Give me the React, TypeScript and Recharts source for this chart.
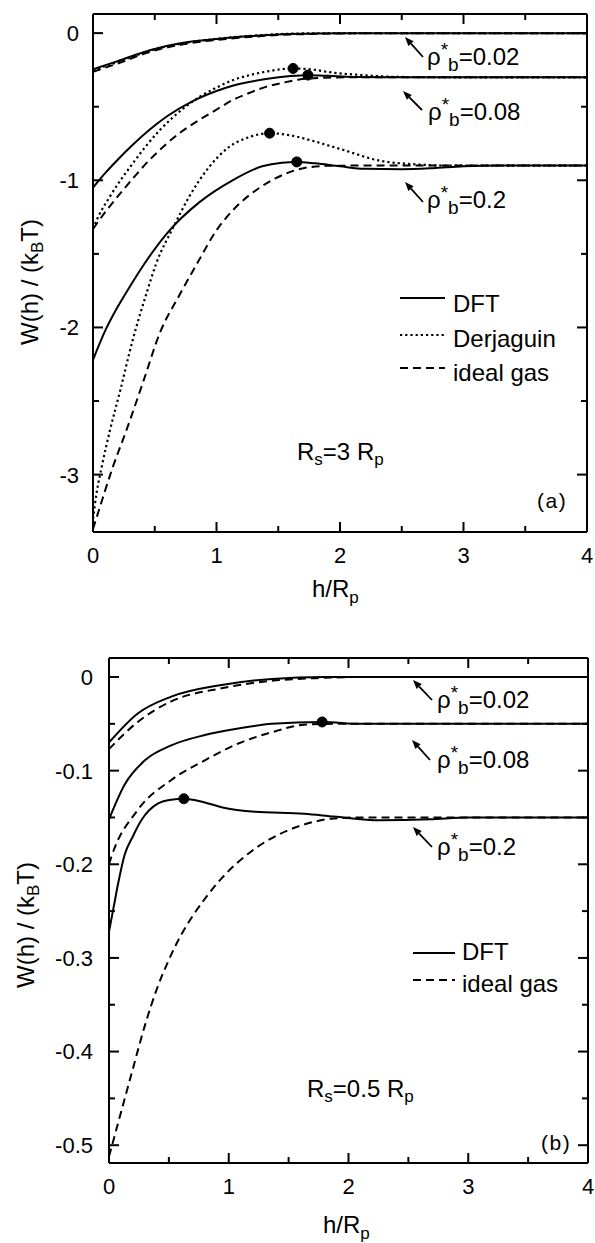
import React from "react";
import { LineChart, Line, XAxis, YAxis } from "recharts";

const FONT = "'Liberation Sans', Arial, Helvetica, sans-serif";

// ---------- Panel (a): Rs = 3 Rp ----------
const dft002a = [[0, -0.245], [0.2, -0.19], [0.46, -0.116], [0.73, -0.066], [1.0, -0.04], [1.27, -0.02], [1.53, -0.007], [1.8, -0.002], [2.2, 0], [4, 0]];
const derj002a = [[0, -0.25], [0.2, -0.196], [0.46, -0.12], [0.73, -0.069], [1.0, -0.039], [1.27, -0.019], [1.53, -0.006], [1.8, -0.001], [2.2, 0], [4, 0]];
const ideal002a = [[0, -0.262], [0.2, -0.206], [0.46, -0.128], [0.73, -0.076], [1.0, -0.046], [1.27, -0.026], [1.53, -0.012], [1.8, -0.005], [2.2, -0.001], [2.6, 0], [4, 0]];

const dft008a = [[0, -1.05], [0.1, -0.95], [0.2, -0.86], [0.32, -0.76], [0.46, -0.655], [0.6, -0.565], [0.8, -0.465], [1.0, -0.393], [1.13, -0.357], [1.4, -0.312], [1.6, -0.292], [1.74, -0.286], [1.9, -0.29], [2.1, -0.298], [2.5, -0.3], [4, -0.3]];
const derj008a = [[0, -1.33], [0.03, -1.27], [0.137, -1.11], [0.3, -0.91], [0.54, -0.66], [0.75, -0.5], [0.86, -0.435], [1.0, -0.37], [1.13, -0.32], [1.27, -0.285], [1.4, -0.262], [1.62, -0.24], [1.8, -0.25], [1.91, -0.265], [2.18, -0.285], [2.45, -0.297], [2.8, -0.3], [4, -0.3]];
const ideal008a = [[0, -1.33], [0.1, -1.215], [0.24, -1.07], [0.46, -0.86], [0.7, -0.68], [0.86, -0.59], [1.0, -0.52], [1.13, -0.455], [1.27, -0.405], [1.4, -0.365], [1.55, -0.335], [1.67, -0.315], [1.85, -0.304], [2.1, -0.3], [4, -0.3]];

const dft02a = [[0, -2.22], [0.1, -2.02], [0.2, -1.86], [0.3, -1.72], [0.43, -1.55], [0.62, -1.34], [0.86, -1.15], [1.13, -1.0], [1.37, -0.905], [1.53, -0.88], [1.65, -0.875], [1.8, -0.885], [2.0, -0.905], [2.2, -0.922], [2.5, -0.925], [2.75, -0.918], [3.0, -0.905], [3.3, -0.9], [4, -0.9]];
const derj02a = [[0, -3.3], [0.03, -3.12], [0.07, -2.95], [0.137, -2.7], [0.22, -2.43], [0.32, -2.09], [0.44, -1.75], [0.51, -1.57], [0.65, -1.32], [0.78, -1.11], [0.94, -0.91], [1.1, -0.775], [1.27, -0.705], [1.43, -0.68], [1.6, -0.695], [1.77, -0.73], [2.05, -0.8], [2.31, -0.865], [2.58, -0.89], [2.9, -0.9], [4, -0.9]];
const ideal02a = [[0, -3.37], [0.056, -3.22], [0.16, -2.95], [0.27, -2.7], [0.41, -2.36], [0.54, -2.04], [0.7, -1.78], [0.84, -1.57], [1.0, -1.34], [1.16, -1.18], [1.35, -1.05], [1.56, -0.955], [1.72, -0.915], [1.9, -0.902], [2.2, -0.9], [4, -0.9]];

const dotsA = [[1.62, -0.24], [1.74, -0.285], [1.43, -0.68], [1.65, -0.875]];

// ---------- Panel (b): Rs = 0.5 Rp ----------
const dft002b = [[0, -0.07], [0.24, -0.039], [0.52, -0.021], [0.94, -0.0085], [1.36, -0.002], [1.8, 0], [4, 0]];
const ideal002b = [[0, -0.077], [0.24, -0.048], [0.52, -0.026], [0.94, -0.012], [1.36, -0.004], [1.77, -0.001], [2.1, 0], [4, 0]];

const dft008b = [[0, -0.152], [0.13, -0.115], [0.3, -0.089], [0.52, -0.073], [0.8, -0.062], [1.08, -0.055], [1.36, -0.05], [1.78, -0.048], [2.1, -0.05], [4, -0.05]];
const ideal008b = [[0, -0.2], [0.02, -0.192], [0.24, -0.142], [0.52, -0.11], [0.8, -0.089], [1.08, -0.071], [1.36, -0.059], [1.63, -0.051], [1.9, -0.05], [4, -0.05]];

const dft02b = [[0, -0.272], [0.04, -0.245], [0.077, -0.22], [0.13, -0.19], [0.2, -0.17], [0.27, -0.153], [0.41, -0.135], [0.52, -0.131], [0.625, -0.13], [0.8, -0.134], [0.94, -0.139], [1.22, -0.144], [1.63, -0.146], [1.88, -0.149], [2.26, -0.153], [2.68, -0.152], [3.0, -0.15], [4, -0.15]];
const ideal02b = [[0, -0.512], [0.1, -0.465], [0.2, -0.418], [0.3, -0.372], [0.4, -0.333], [0.5, -0.302], [0.6, -0.276], [0.7, -0.255], [0.8, -0.237], [0.94, -0.215], [1.19, -0.186], [1.49, -0.164], [1.7, -0.155], [1.88, -0.151], [2.1, -0.15], [4, -0.15]];

const dotsB = [[1.78, -0.048], [0.625, -0.13]];

// ---------- Ticks ----------
const xTicks = [0, 0.5, 1, 1.5, 2, 2.5, 3, 3.5, 4];
const xMajor = [0, 1, 2, 3, 4];
const xLabels = ["0", "1", "2", "3", "4"];

const yTicksA = [-3, -2.5, -2, -1.5, -1, -0.5, 0];
const yMajorA = [-3, -2, -1, 0];
const yLabelsA = ["-3", "-2", "-1", "0"];

const yTicksB = [-0.5, -0.45, -0.4, -0.35, -0.3, -0.25, -0.2, -0.15, -0.1, -0.05, 0];
const yMajorB = [-0.5, -0.4, -0.3, -0.2, -0.1, 0];
const yLabelsB = ["-0.5", "-0.4", "-0.3", "-0.2", "-0.1", "0"];

const toPts = (arr: number[][]) => arr.map(([h, W]) => ({ h, W }));

const DASH = { solid: undefined, dotted: "2.2 3", dashed: "8 5" } as const;
const WIDTH = { solid: 2, dotted: 2.2, dashed: 2 } as const;

const findMajor = (majors: number[], v: number) => majors.findIndex((m) => Math.abs(m - v) < 1e-6);

function makeTick(side: "left" | "right" | "top" | "bottom", majors: number[], labels: string[], gap: number) {
  return (props: any) => {
    const { x, y, payload } = props;
    const idx = findMajor(majors, payload.value);
    const len = idx >= 0 ? 10 : 6;
    let line;
    if (side === "left") line = <line x1={x} y1={y} x2={x + len} y2={y} stroke="#000" strokeWidth={2} />;
    else if (side === "right") line = <line x1={x - len} y1={y} x2={x} y2={y} stroke="#000" strokeWidth={2} />;
    else if (side === "top") line = <line x1={x} y1={y} x2={x} y2={y + len} stroke="#000" strokeWidth={2} />;
    else line = <line x1={x} y1={y} x2={x} y2={y - len} stroke="#000" strokeWidth={2} />;
    let label = null;
    if (idx >= 0 && side === "left")
      label = (
        <text x={x - gap} y={y + 7.9} textAnchor="end" fontFamily={FONT} fontSize={22} fill="#000">
          {labels[idx]}
        </text>
      );
    if (idx >= 0 && side === "bottom")
      label = (
        <text x={x} y={y + gap} textAnchor="middle" fontFamily={FONT} fontSize={22} fill="#000">
          {labels[idx]}
        </text>
      );
    return <g>{line}{label}</g>;
  };
}

type Series = { data: number[][]; style: keyof typeof DASH };

function Panel(props: {
  height: number;
  margin: { top: number; right: number; bottom: number; left: number };
  yAxisWidth: number;
  xAxisHeight: number;
  yDomain: [number, number];
  yTicks: number[];
  yMajor: number[];
  yLabels: string[];
  yGap: number;
  series: Series[];
  dots: number[][];
}) {
  const axisLine = { stroke: "#000", strokeWidth: 2 };
  return (
    <LineChart width={595} height={props.height} margin={props.margin}>
      <XAxis
        dataKey="h"
        type="number"
        domain={[0, 4]}
        ticks={xTicks}
        interval={0}
        height={props.xAxisHeight}
        tickSize={0}
        tickMargin={0}
        tickLine={false}
        axisLine={axisLine}
        allowDataOverflow
        tick={makeTick("bottom", xMajor, xLabels, 31)}
      />
      <XAxis
        xAxisId="top"
        orientation="top"
        dataKey="h"
        type="number"
        domain={[0, 4]}
        ticks={xTicks}
        interval={0}
        height={1}
        tickSize={0}
        tickMargin={0}
        tickLine={false}
        axisLine={axisLine}
        allowDataOverflow
        tick={makeTick("top", xMajor, xLabels, 0)}
      />
      <YAxis
        type="number"
        domain={props.yDomain}
        ticks={props.yTicks}
        interval={0}
        width={props.yAxisWidth}
        tickSize={0}
        tickMargin={0}
        tickLine={false}
        axisLine={axisLine}
        allowDataOverflow
        tick={makeTick("left", props.yMajor, props.yLabels, props.yGap)}
      />
      <YAxis
        yAxisId="right"
        orientation="right"
        type="number"
        domain={props.yDomain}
        ticks={props.yTicks}
        interval={0}
        width={1}
        tickSize={0}
        tickMargin={0}
        tickLine={false}
        axisLine={axisLine}
        allowDataOverflow
        tick={makeTick("right", props.yMajor, props.yLabels, 0)}
      />
      {props.series.map((s, i) => (
        <Line
          key={i}
          data={toPts(s.data)}
          dataKey="W"
          type="monotone"
          stroke="#000"
          strokeWidth={WIDTH[s.style]}
          strokeDasharray={DASH[s.style]}
          dot={false}
          activeDot={false}
          isAnimationActive={false}
        />
      ))}
      <Line
        data={toPts(props.dots)}
        dataKey="W"
        stroke="none"
        dot={{ r: 5, fill: "#000", stroke: "#000", strokeWidth: 1 }}
        activeDot={false}
        isAnimationActive={false}
      />
    </LineChart>
  );
}

const seriesA: Series[] = [
  { data: dft002a, style: "solid" },
  { data: derj002a, style: "dotted" },
  { data: ideal002a, style: "dashed" },
  { data: dft008a, style: "solid" },
  { data: derj008a, style: "dotted" },
  { data: ideal008a, style: "dashed" },
  { data: dft02a, style: "solid" },
  { data: derj02a, style: "dotted" },
  { data: ideal02a, style: "dashed" },
];

const seriesB: Series[] = [
  { data: dft002b, style: "solid" },
  { data: ideal002b, style: "dashed" },
  { data: dft008b, style: "solid" },
  { data: ideal008b, style: "dashed" },
  { data: dft02b, style: "solid" },
  { data: ideal02b, style: "dashed" },
];

function Arrow({ x1, y1, x2, y2 }: { x1: number; y1: number; x2: number; y2: number }) {
  const dx = x2 - x1;
  const dy = y2 - y1;
  const L = Math.hypot(dx, dy);
  const ux = dx / L;
  const uy = dy / L;
  const hl = 9;
  const hw = 3.5;
  const bx = x2 - ux * hl;
  const by = y2 - uy * hl;
  const p = `${x2},${y2} ${bx - uy * hw},${by + ux * hw} ${bx + uy * hw},${by - ux * hw}`;
  return (
    <g>
      <line x1={x1} y1={y1} x2={bx} y2={by} stroke="#000" strokeWidth={1.8} />
      <polygon points={p} fill="#000" />
    </g>
  );
}

function RhoLabel({ x, y, value }: { x: number; y: number; value: string }) {
  return (
    <text x={x} y={y} fontFamily={FONT} fontSize={24} fill="#000">
      ρ
      <tspan dy={-9} fontSize={19}>*</tspan>
      <tspan dy={15} fontSize={19}>b</tspan>
      <tspan dy={-6}>={value}</tspan>
    </text>
  );
}

function Overlay() {
  const t = { fontFamily: FONT, fill: "#000" };
  return (
    <svg
      width={595}
      height={1243}
      style={{ position: "absolute", left: 0, top: 0, pointerEvents: "none" }}
    >
      {/* Panel (a) annotations */}
      <Arrow x1={423} y1={57} x2={405} y2={37} />
      <RhoLabel x={427} y={65} value="0.02" />
      <Arrow x1={422} y1={110} x2={403} y2={91} />
      <RhoLabel x={428} y={120} value="0.08" />
      <Arrow x1={423} y1={202} x2={405} y2={182} />
      <RhoLabel x={427} y={208} value="0.2" />

      <line x1={400} y1={298} x2={445} y2={298} stroke="#000" strokeWidth={2} />
      <text x={453} y={312} fontSize={24} {...t}>DFT</text>
      <line x1={400} y1={335} x2={445} y2={335} stroke="#000" strokeWidth={2.2} strokeDasharray="2.2 3" />
      <text x={453} y={347} fontSize={24} {...t}>Derjaguin</text>
      <line x1={400} y1={368} x2={445} y2={368} stroke="#000" strokeWidth={2} strokeDasharray="8 5" />
      <text x={453} y={381} fontSize={24} {...t}>ideal gas</text>

      <text x={297} y={460} fontSize={24} {...t}>
        R<tspan dy={5} fontSize={17}>s</tspan>
        <tspan dy={-5}>=3 R</tspan>
        <tspan dy={5} fontSize={17}>p</tspan>
      </text>
      <text x={537} y={508} fontSize={21} letterSpacing={1.5} {...t}>(a)</text>

      <text x={312} y={597} fontSize={24} {...t}>
        h/R<tspan dy={6} fontSize={17}>p</tspan>
      </text>
      <text x={38} y={282} fontSize={24} textAnchor="middle" transform="rotate(-90 38 282)" {...t}>
        W(h) / (k<tspan dy={5} fontSize={17}>B</tspan>
        <tspan dy={-5}>T)</tspan>
      </text>

      {/* Panel (b) annotations */}
      <Arrow x1={432} y1={700} x2={413} y2={680} />
      <RhoLabel x={437} y={708} value="0.02" />
      <Arrow x1={430} y1={760} x2={412} y2={740} />
      <RhoLabel x={437} y={768} value="0.08" />
      <Arrow x1={432} y1={847} x2={413} y2={827} />
      <RhoLabel x={437} y={855} value="0.2" />

      <line x1={413} y1={953} x2={455} y2={953} stroke="#000" strokeWidth={2} />
      <text x={462} y={960} fontSize={24} {...t}>DFT</text>
      <line x1={413} y1={980} x2={455} y2={980} stroke="#000" strokeWidth={2} strokeDasharray="8 5" />
      <text x={462} y={992} fontSize={24} {...t}>ideal gas</text>

      <text x={307} y={1097} fontSize={24} {...t}>
        R<tspan dy={5} fontSize={17}>s</tspan>
        <tspan dy={-5}>=0.5 R</tspan>
        <tspan dy={5} fontSize={17}>p</tspan>
      </text>
      <text x={541} y={1150} fontSize={21} letterSpacing={1.5} {...t}>(b)</text>

      <text x={323} y={1233} fontSize={24} {...t}>
        h/R<tspan dy={6} fontSize={17}>p</tspan>
      </text>
      <text x={34} y={925} fontSize={24} textAnchor="middle" transform="rotate(-90 34 925)" {...t}>
        W(h) / (k<tspan dy={5} fontSize={17}>B</tspan>
        <tspan dy={-5}>T)</tspan>
      </text>
    </svg>
  );
}

export default function App() {
  return (
    <div style={{ position: "absolute", left: 0, top: 0, width: 595, height: 1243, background: "#fff" }}>
      <div style={{ position: "absolute", left: 0, top: 0 }}>
        <Panel
          height={620}
          margin={{ top: 13, right: 7, bottom: 0, left: 0 }}
          yAxisWidth={93}
          xAxisHeight={88}
          yDomain={[-3.39, 0.13]}
          yTicks={yTicksA}
          yMajor={yMajorA}
          yLabels={yLabelsA}
          yGap={14}
          series={seriesA}
          dots={dotsA}
        />
      </div>
      <div style={{ position: "absolute", left: 0, top: 620 }}>
        <Panel
          height={623}
          margin={{ top: 37, right: 6, bottom: 0, left: 0 }}
          yAxisWidth={109}
          xAxisHeight={80}
          yDomain={[-0.519, 0.0203]}
          yTicks={yTicksB}
          yMajor={yMajorB}
          yLabels={yLabelsB}
          yGap={16}
          series={seriesB}
          dots={dotsB}
        />
      </div>
      <Overlay />
    </div>
  );
}
